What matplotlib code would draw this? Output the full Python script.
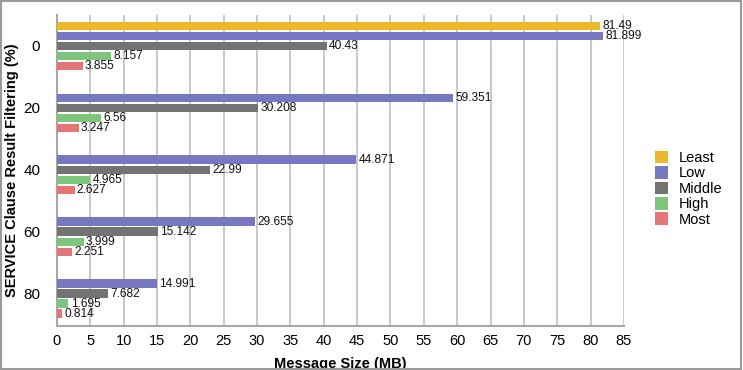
import matplotlib
matplotlib.use("Agg")
import matplotlib.pyplot as plt
import numpy as np
from matplotlib.patches import Rectangle

plt.rcParams['font.family'] = ['Liberation Sans', 'DejaVu Sans']

categories = ["0", "20", "40", "60", "80"]
series_names = ["Least", "Low", "Middle", "High", "Most"]
least = [81.49, None, None, None, None]
low = [81.899, 59.351, 44.871, 29.655, 14.991]
middle = [40.43, 30.208, 22.99, 15.142, 7.682]
high = [8.157, 6.56, 4.965, 3.999, 1.695]
most = [3.855, 3.247, 2.627, 2.251, 0.814]
value_labels = {
    "Least": ["81.49", None, None, None, None],
    "Low": ["81.899", "59.351", "44.871", "29.655", "14.991"],
    "Middle": ["40.43", "30.208", "22.99", "15.142", "7.682"],
    "High": ["8.157", "6.56", "4.965", "3.999", "1.695"],
    "Most": ["3.855", "3.247", "2.627", "2.251", "0.814"],
}
colors = ["#ECB92B", "#7777C2", "#737373", "#7DC47D", "#E67575"]
xticks = list(range(0, 90, 5))

fig = plt.figure(figsize=(7.43, 3.70), dpi=100)
ax = fig.add_axes([0.0767, 0.119, 0.763, 0.8405])

data = [least, low, middle, high, most]
slot = 0.162
bh = 0.14
y = np.arange(len(categories))
for i, (name, vals, col) in enumerate(zip(series_names, data, colors)):
    off = (i - 2) * slot
    ys, xs, labs = [], [], []
    for j, v in enumerate(vals):
        if v is None:
            continue
        ys.append(y[j] + off)
        xs.append(v)
        labs.append(value_labels[name][j])
    ax.barh(ys, xs, height=bh, color=col, zorder=3, label=name)
    for yy, xx, lab in zip(ys, xs, labs):
        ax.text(xx + 0.35, yy, lab, va='center', ha='left', fontsize=8.6, color='#111111', zorder=4)

ax.set_ylim(4.52, -0.5)
ax.set_xlim(0, 85)
ax.set_xticks(xticks)
ax.set_yticks(y)
ax.set_yticklabels(categories, fontsize=11)
ax.tick_params(axis='x', labelsize=10.5, length=0, pad=6)
ax.tick_params(axis='y', length=0, pad=12)
ax.grid(axis='x', color='#C4C4C4', linewidth=1.3, zorder=0)
for s in ['top', 'right']:
    ax.spines[s].set_visible(False)
ax.spines['left'].set_color('#A8A8A8')
ax.spines['bottom'].set_color('#A8A8A8')
ax.spines['left'].set_linewidth(1.5)
ax.spines['bottom'].set_linewidth(1.5)

ax.set_xlabel("Message Size (MB)", fontsize=10.5, fontweight='bold', labelpad=6)
ax.set_ylabel("SERVICE Clause Result Filtering (%)", fontsize=10.5, fontweight='bold', labelpad=3)

leg = fig.legend(loc='center left', bbox_to_anchor=(0.881, 0.49), frameon=False,
                 fontsize=10.5, handlelength=0.95, handleheight=0.95, handletextpad=0.7,
                 labelspacing=0.08, borderpad=0, borderaxespad=0)

fig.patches.append(Rectangle((0.002, 0.003), 0.995, 0.993, transform=fig.transFigure,
                             fill=False, edgecolor='#9A9A9A', linewidth=1.5))

fig.savefig("out.png", dpi=100)
